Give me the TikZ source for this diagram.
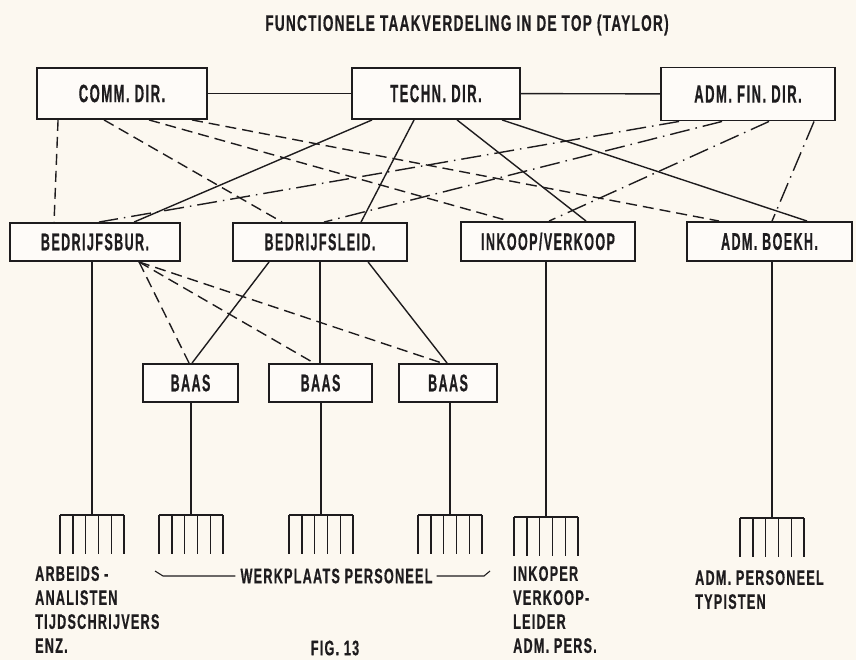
\documentclass[tikz,border=0pt]{standalone}
\usepackage{fontspec}
\setmainfont{Liberation Sans}[FakeStretch=0.52, LetterSpace=6, BoldFeatures={FakeBold=0.6}]
\newfontfamily\lblfont{Liberation Sans}[FakeStretch=0.6, LetterSpace=6, BoldFeatures={FakeBold=0.6}]
\usetikzlibrary{calc}
\definecolor{paper}{RGB}{252,248,240}
\definecolor{ink}{RGB}{30,28,30}
\tikzset{
  box/.style={draw=ink, line width=1.9pt, fill=white!50!paper, inner sep=0pt, text=ink,
    font=\bfseries\fontsize{24}{26}\selectfont},
  topbox/.style={box, minimum height=51pt, font=\bfseries\fontsize{25}{26}\selectfont},
  midbox/.style={box, minimum height=38pt},
  lbl/.style={text=ink, inner sep=0pt, font=\lblfont\bfseries\fontsize{21}{24}\selectfont},
  solidline/.style={draw=ink, line width=1.4pt},
  dashline/.style={draw=ink, line width=1.4pt, dash pattern=on 11pt off 6pt},
  dotline/.style={draw=ink, line width=1.4pt, dash pattern=on 20pt off 6pt on 1.5pt off 6pt},
}
\begin{document}
\begin{tikzpicture}[x=1pt, y=-1pt]
\fill[paper] (0,0) rectangle (856,660);
\useasboundingbox (0,0) rectangle (856,660);

\node[lbl, font=\lblfont\bfseries\fontsize{22.5}{24}\selectfont] (title) at (467,25) {FUNCTIONELE TAAKVERDELING IN DE TOP (TAYLOR)};

\node[topbox, minimum width=170pt] (comm) at (122,93.5) {COMM. DIR.};
\node[topbox, minimum width=168pt] (techn) at (436,93.5) {TECHN. DIR.};
\node[topbox, minimum width=174pt, minimum height=53pt] (admfin) at (748,94) {ADM. FIN. DIR.};

\node[midbox, minimum width=170pt] (bedrbur) at (95,242) {BEDRIJFSBUR.};
\node[midbox, minimum width=174pt] (bedrleid) at (320,242) {BEDRIJFSLEID.};
\node[midbox, minimum width=174pt, minimum height=39pt] (inkoop) at (548,241.5) {INKOOP/VERKOOP};
\node[midbox, minimum width=165pt, minimum height=39pt] (admboekh) at (769.5,241.5) {ADM. BOEKH.};

\node[midbox, minimum width=95pt] (baasA) at (190.5,383) {BAAS};
\node[midbox, minimum width=103pt] (baasB) at (320.5,383) {BAAS};
\node[midbox, minimum width=98pt] (baasC) at (448,383) {BAAS};

\draw[solidline] (comm) -- (techn);
\draw[solidline] (techn) -- (admfin);

\draw[dashline] ([xshift=22pt]comm.south west) -- ([xshift=45pt]bedrbur.north west);
\draw[dashline] ([xshift=68pt]comm.south west) -- ([xshift=50pt]bedrleid.north west);
\draw[dashline] ([xshift=113pt]comm.south west) -- ([xshift=49pt]inkoop.north west);
\draw[dashline] ([xshift=156pt]comm.south west) -- ([xshift=33pt]admboekh.north west);

\draw[solidline] ([xshift=21pt]techn.south west) -- ([xshift=125pt]bedrbur.north west);
\draw[solidline] ([xshift=63pt]techn.south west) -- ([xshift=129pt]bedrleid.north west);
\draw[solidline] ([xshift=106pt]techn.south west) -- ([xshift=126pt]inkoop.north west);
\draw[solidline] ([xshift=151pt]techn.south west) -- ([xshift=121pt]admboekh.north west);

\draw[dotline] ([xshift=19pt]admfin.south west) -- ([xshift=90pt]bedrbur.north west);
\draw[dotline] ([xshift=62pt]admfin.south west) -- ([xshift=92pt]bedrleid.north west);
\draw[dotline] ([xshift=109pt]admfin.south west) -- ([xshift=89pt]inkoop.north west);
\draw[dotline] ([xshift=154pt]admfin.south west) -- ([xshift=86pt]admboekh.north west);

\coordinate (hub) at ([xshift=130pt]bedrbur.south west);
\draw[dashline] (hub) -- ([xshift=47pt]baasA.north west);
\draw[dashline] (hub) -- ([xshift=46pt]baasB.north west);
\draw[dashline] (hub) -- ([xshift=44pt]baasC.north west);

\draw[solidline] ([xshift=37pt]bedrleid.south west) -- ([xshift=50pt]baasA.north west);
\draw[solidline] ([xshift=88pt]bedrleid.south west) -- ([xshift=52pt]baasB.north west);
\draw[solidline] ([xshift=136pt]bedrleid.south west) -- ([xshift=49pt]baasC.north west);

\coordinate (rakeA) at (92,515);
\coordinate (rakeB) at (191,515);
\coordinate (rakeC) at (321,515);
\coordinate (rakeD) at (450,515);
\coordinate (rakeE) at (546,517);
\coordinate (rakeF) at (772,518);
\draw[solidline] (rakeA |- bedrbur.south) -- (rakeA);
\draw[solidline] (rakeB |- baasA.south) -- (rakeB);
\draw[solidline] (rakeC |- baasB.south) -- (rakeC);
\draw[solidline] (rakeD |- baasC.south) -- (rakeD);
\draw[solidline] (rakeE |- inkoop.south) -- (rakeE);
\draw[solidline] (rakeF |- admboekh.south) -- (rakeF);
\foreach \r in {rakeA,rakeB,rakeC,rakeD,rakeE,rakeF} {
 \draw[solidline] ([xshift=-32pt]\r) -- ([xshift=32pt]\r);
 \foreach \i [evaluate=\i as \dx using -32+12.8*\i] in {0,...,5}
  \draw[solidline] ([xshift=\dx pt]\r) -- ++(0,39);
}

\node[lbl, anchor=north west, align=left] (arbeids) at (35,566) {ARBEIDS -\\ANALISTEN\\TIJDSCHRIJVERS\\ENZ.};
\node[lbl] (werk) at (336.5,576) {WERKPLAATS PERSONEEL};
\draw[solidline, line width=1.1pt] ([xshift=-5pt]werk.west) -- (163,576) -- (155,571);
\draw[solidline, line width=1.1pt] ([xshift=4pt]werk.east) -- (484,576) -- (490,571);
\node[lbl] (fig) at (335,648) {FIG. 13};
\node[lbl, anchor=north west, align=left] (inkoper) at (513,566) {INKOPER\\VERKOOP-\\LEIDER\\ADM. PERS.};
\node[lbl, anchor=north west, align=left] (admpers) at (695,570) {ADM. PERSONEEL\\TYPISTEN};
\end{tikzpicture}
\end{document}
